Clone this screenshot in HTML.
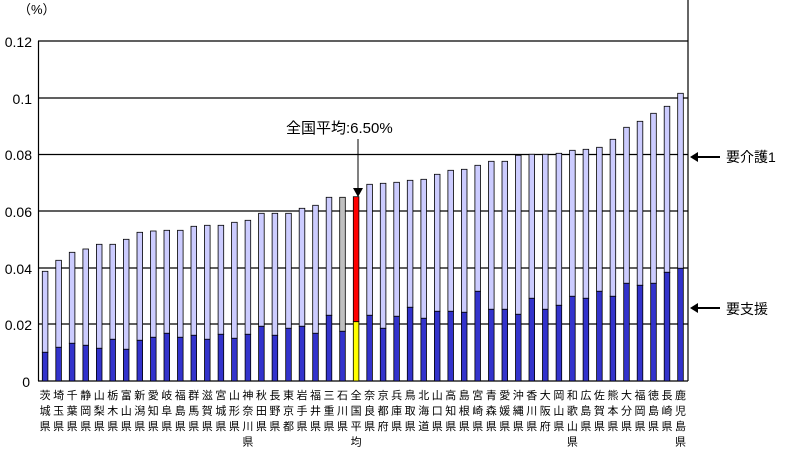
<!DOCTYPE html>
<html><head><meta charset="utf-8"><style>body{margin:0;background:#fff}svg{display:block}.u{fill:#ccccff}.d{fill:#3333cc}rect{stroke:#000;stroke-width:0.8}</style></head><body>
<svg width="790" height="449" xmlns="http://www.w3.org/2000/svg" font-family="'Liberation Sans','Noto Sans CJK JP',sans-serif">
<rect width="790" height="449" fill="#fff" style="stroke:none"/>
<text x="18" y="14" font-size="13">（%）</text>
<g stroke="#000" stroke-width="1.2">
<line x1="38" y1="41" x2="688" y2="41"/><line x1="38" y1="98" x2="688" y2="98"/><line x1="38" y1="154.5" x2="688" y2="154.5"/><line x1="38" y1="211" x2="688" y2="211"/><line x1="38" y1="268" x2="688" y2="268"/><line x1="38" y1="324" x2="688" y2="324"/><line x1="38" y1="381" x2="688" y2="381"/>
<line x1="38.5" y1="41" x2="38.5" y2="381"/><line x1="688" y1="0" x2="688" y2="381"/>
</g>
<g font-size="14" text-anchor="end">
<text x="32" y="47">0.12</text><text x="32" y="104">0.1</text><text x="32" y="160">0.08</text><text x="32" y="217">0.06</text><text x="32" y="274">0.04</text><text x="32" y="330">0.02</text><text x="30" y="387">0</text>
</g>
<g>
<rect class="u" x="42.3" y="271.3" width="5.6" height="81"/><rect class="d" x="42.3" y="352.3" width="5.6" height="28.7"/>
<rect class="u" x="55.8" y="260.3" width="5.6" height="87"/><rect class="d" x="55.8" y="347.3" width="5.6" height="33.7"/>
<rect class="u" x="69.3" y="252.3" width="5.6" height="91"/><rect class="d" x="69.3" y="343.3" width="5.6" height="37.7"/>
<rect class="u" x="82.9" y="249" width="5.6" height="96.3"/><rect class="d" x="82.9" y="345.3" width="5.6" height="35.7"/>
<rect class="u" x="96.4" y="244.3" width="5.6" height="104"/><rect class="d" x="96.4" y="348.3" width="5.6" height="32.7"/>
<rect class="u" x="109.9" y="244.3" width="5.6" height="95"/><rect class="d" x="109.9" y="339.3" width="5.6" height="41.7"/>
<rect class="u" x="123.4" y="239.3" width="5.6" height="110"/><rect class="d" x="123.4" y="349.3" width="5.6" height="31.7"/>
<rect class="u" x="137.0" y="232.3" width="5.6" height="108"/><rect class="d" x="137.0" y="340.3" width="5.6" height="40.7"/>
<rect class="u" x="150.5" y="231" width="5.6" height="106.3"/><rect class="d" x="150.5" y="337.3" width="5.6" height="43.7"/>
<rect class="u" x="164.0" y="230.3" width="5.6" height="103"/><rect class="d" x="164.0" y="333.3" width="5.6" height="47.7"/>
<rect class="u" x="177.5" y="230.3" width="5.6" height="107"/><rect class="d" x="177.5" y="337.3" width="5.6" height="43.7"/>
<rect class="u" x="191.0" y="226.3" width="5.6" height="109"/><rect class="d" x="191.0" y="335.3" width="5.6" height="45.7"/>
<rect class="u" x="204.5" y="225.3" width="5.6" height="114"/><rect class="d" x="204.5" y="339.3" width="5.6" height="41.7"/>
<rect class="u" x="218.1" y="225.3" width="5.6" height="109"/><rect class="d" x="218.1" y="334.3" width="5.6" height="46.7"/>
<rect class="u" x="231.6" y="222.3" width="5.6" height="116"/><rect class="d" x="231.6" y="338.3" width="5.6" height="42.7"/>
<rect class="u" x="245.1" y="220.3" width="5.6" height="114"/><rect class="d" x="245.1" y="334.3" width="5.6" height="46.7"/>
<rect class="u" x="258.6" y="213.3" width="5.6" height="113"/><rect class="d" x="258.6" y="326.3" width="5.6" height="54.7"/>
<rect class="u" x="272.1" y="213.3" width="5.6" height="122"/><rect class="d" x="272.1" y="335.3" width="5.6" height="45.7"/>
<rect class="u" x="285.7" y="213.3" width="5.6" height="115"/><rect class="d" x="285.7" y="328.3" width="5.6" height="52.7"/>
<rect class="u" x="299.2" y="208.3" width="5.6" height="118"/><rect class="d" x="299.2" y="326.3" width="5.6" height="54.7"/>
<rect class="u" x="312.7" y="205.3" width="5.6" height="128"/><rect class="d" x="312.7" y="333.3" width="5.6" height="47.7"/>
<rect class="u" x="326.2" y="197.3" width="5.6" height="118"/><rect class="d" x="326.2" y="315.3" width="5.6" height="65.7"/>
<rect style="fill:#c0c0c0" x="339.7" y="197.3" width="5.6" height="134"/><rect class="d" x="339.7" y="331.3" width="5.6" height="49.7"/>
<rect style="fill:#ff0000" x="353.3" y="196.7" width="5.6" height="125"/><rect style="fill:#ffff00" x="353.3" y="321.7" width="5.6" height="59.3"/>
<rect class="u" x="366.8" y="184.3" width="5.6" height="131"/><rect class="d" x="366.8" y="315.3" width="5.6" height="65.7"/>
<rect class="u" x="380.3" y="183.3" width="5.6" height="145"/><rect class="d" x="380.3" y="328.3" width="5.6" height="52.7"/>
<rect class="u" x="393.8" y="182.3" width="5.6" height="134"/><rect class="d" x="393.8" y="316.3" width="5.6" height="64.7"/>
<rect class="u" x="407.3" y="180.3" width="5.6" height="127"/><rect class="d" x="407.3" y="307.3" width="5.6" height="73.7"/>
<rect class="u" x="420.9" y="179.3" width="5.6" height="139"/><rect class="d" x="420.9" y="318.3" width="5.6" height="62.7"/>
<rect class="u" x="434.4" y="174.3" width="5.6" height="137"/><rect class="d" x="434.4" y="311.3" width="5.6" height="69.7"/>
<rect class="u" x="447.9" y="170.3" width="5.6" height="141"/><rect class="d" x="447.9" y="311.3" width="5.6" height="69.7"/>
<rect class="u" x="461.4" y="169.3" width="5.6" height="143"/><rect class="d" x="461.4" y="312.3" width="5.6" height="68.7"/>
<rect class="u" x="474.9" y="165.3" width="5.6" height="126"/><rect class="d" x="474.9" y="291.3" width="5.6" height="89.7"/>
<rect class="u" x="488.5" y="161.3" width="5.6" height="148"/><rect class="d" x="488.5" y="309.3" width="5.6" height="71.7"/>
<rect class="u" x="502.0" y="161.3" width="5.6" height="148"/><rect class="d" x="502.0" y="309.3" width="5.6" height="71.7"/>
<rect class="u" x="515.5" y="155.3" width="5.6" height="159"/><rect class="d" x="515.5" y="314.3" width="5.6" height="66.7"/>
<rect class="u" x="529.0" y="154.3" width="5.6" height="144"/><rect class="d" x="529.0" y="298.3" width="5.6" height="82.7"/>
<rect class="u" x="542.5" y="154.3" width="5.6" height="155"/><rect class="d" x="542.5" y="309.3" width="5.6" height="71.7"/>
<rect class="u" x="556.1" y="153.3" width="5.6" height="152"/><rect class="d" x="556.1" y="305.3" width="5.6" height="75.7"/>
<rect class="u" x="569.6" y="150.3" width="5.6" height="146"/><rect class="d" x="569.6" y="296.3" width="5.6" height="84.7"/>
<rect class="u" x="583.1" y="149.3" width="5.6" height="149"/><rect class="d" x="583.1" y="298.3" width="5.6" height="82.7"/>
<rect class="u" x="596.6" y="147.3" width="5.6" height="144"/><rect class="d" x="596.6" y="291.3" width="5.6" height="89.7"/>
<rect class="u" x="610.1" y="139.3" width="5.6" height="157"/><rect class="d" x="610.1" y="296.3" width="5.6" height="84.7"/>
<rect class="u" x="623.7" y="127.3" width="5.6" height="156"/><rect class="d" x="623.7" y="283.3" width="5.6" height="97.7"/>
<rect class="u" x="637.2" y="121.3" width="5.6" height="164"/><rect class="d" x="637.2" y="285.3" width="5.6" height="95.7"/>
<rect class="u" x="650.7" y="113.3" width="5.6" height="170"/><rect class="d" x="650.7" y="283.3" width="5.6" height="97.7"/>
<rect class="u" x="664.2" y="106.3" width="5.6" height="166"/><rect class="d" x="664.2" y="272.3" width="5.6" height="108.7"/>
<rect class="u" x="677.7" y="93.3" width="5.6" height="175"/><rect class="d" x="677.7" y="268.3" width="5.6" height="112.7"/>
</g>
<g font-size="11" text-anchor="middle">
<text x="45.1" y="399">茨<tspan x="45.1" dy="15.5">城</tspan><tspan x="45.1" dy="15.5">県</tspan></text>
<text x="58.6" y="399">埼<tspan x="58.6" dy="15.5">玉</tspan><tspan x="58.6" dy="15.5">県</tspan></text>
<text x="72.1" y="399">千<tspan x="72.1" dy="15.5">葉</tspan><tspan x="72.1" dy="15.5">県</tspan></text>
<text x="85.7" y="399">静<tspan x="85.7" dy="15.5">岡</tspan><tspan x="85.7" dy="15.5">県</tspan></text>
<text x="99.2" y="399">山<tspan x="99.2" dy="15.5">梨</tspan><tspan x="99.2" dy="15.5">県</tspan></text>
<text x="112.7" y="399">栃<tspan x="112.7" dy="15.5">木</tspan><tspan x="112.7" dy="15.5">県</tspan></text>
<text x="126.2" y="399">富<tspan x="126.2" dy="15.5">山</tspan><tspan x="126.2" dy="15.5">県</tspan></text>
<text x="139.8" y="399">新<tspan x="139.8" dy="15.5">潟</tspan><tspan x="139.8" dy="15.5">県</tspan></text>
<text x="153.3" y="399">愛<tspan x="153.3" dy="15.5">知</tspan><tspan x="153.3" dy="15.5">県</tspan></text>
<text x="166.8" y="399">岐<tspan x="166.8" dy="15.5">阜</tspan><tspan x="166.8" dy="15.5">県</tspan></text>
<text x="180.3" y="399">福<tspan x="180.3" dy="15.5">島</tspan><tspan x="180.3" dy="15.5">県</tspan></text>
<text x="193.8" y="399">群<tspan x="193.8" dy="15.5">馬</tspan><tspan x="193.8" dy="15.5">県</tspan></text>
<text x="207.3" y="399">滋<tspan x="207.3" dy="15.5">賀</tspan><tspan x="207.3" dy="15.5">県</tspan></text>
<text x="220.9" y="399">宮<tspan x="220.9" dy="15.5">城</tspan><tspan x="220.9" dy="15.5">県</tspan></text>
<text x="234.4" y="399">山<tspan x="234.4" dy="15.5">形</tspan><tspan x="234.4" dy="15.5">県</tspan></text>
<text x="247.9" y="399">神<tspan x="247.9" dy="15.5">奈</tspan><tspan x="247.9" dy="15.5">川</tspan><tspan x="247.9" dy="15.5">県</tspan></text>
<text x="261.4" y="399">秋<tspan x="261.4" dy="15.5">田</tspan><tspan x="261.4" dy="15.5">県</tspan></text>
<text x="274.9" y="399">長<tspan x="274.9" dy="15.5">野</tspan><tspan x="274.9" dy="15.5">県</tspan></text>
<text x="288.5" y="399">東<tspan x="288.5" dy="15.5">京</tspan><tspan x="288.5" dy="15.5">都</tspan></text>
<text x="302.0" y="399">岩<tspan x="302.0" dy="15.5">手</tspan><tspan x="302.0" dy="15.5">県</tspan></text>
<text x="315.5" y="399">福<tspan x="315.5" dy="15.5">井</tspan><tspan x="315.5" dy="15.5">県</tspan></text>
<text x="329.0" y="399">三<tspan x="329.0" dy="15.5">重</tspan><tspan x="329.0" dy="15.5">県</tspan></text>
<text x="342.5" y="399">石<tspan x="342.5" dy="15.5">川</tspan><tspan x="342.5" dy="15.5">県</tspan></text>
<text x="356.1" y="399">全<tspan x="356.1" dy="15.5">国</tspan><tspan x="356.1" dy="15.5">平</tspan><tspan x="356.1" dy="15.5">均</tspan></text>
<text x="369.6" y="399">奈<tspan x="369.6" dy="15.5">良</tspan><tspan x="369.6" dy="15.5">県</tspan></text>
<text x="383.1" y="399">京<tspan x="383.1" dy="15.5">都</tspan><tspan x="383.1" dy="15.5">府</tspan></text>
<text x="396.6" y="399">兵<tspan x="396.6" dy="15.5">庫</tspan><tspan x="396.6" dy="15.5">県</tspan></text>
<text x="410.1" y="399">鳥<tspan x="410.1" dy="15.5">取</tspan><tspan x="410.1" dy="15.5">県</tspan></text>
<text x="423.7" y="399">北<tspan x="423.7" dy="15.5">海</tspan><tspan x="423.7" dy="15.5">道</tspan></text>
<text x="437.2" y="399">山<tspan x="437.2" dy="15.5">口</tspan><tspan x="437.2" dy="15.5">県</tspan></text>
<text x="450.7" y="399">高<tspan x="450.7" dy="15.5">知</tspan><tspan x="450.7" dy="15.5">県</tspan></text>
<text x="464.2" y="399">島<tspan x="464.2" dy="15.5">根</tspan><tspan x="464.2" dy="15.5">県</tspan></text>
<text x="477.7" y="399">宮<tspan x="477.7" dy="15.5">崎</tspan><tspan x="477.7" dy="15.5">県</tspan></text>
<text x="491.3" y="399">青<tspan x="491.3" dy="15.5">森</tspan><tspan x="491.3" dy="15.5">県</tspan></text>
<text x="504.8" y="399">愛<tspan x="504.8" dy="15.5">媛</tspan><tspan x="504.8" dy="15.5">県</tspan></text>
<text x="518.3" y="399">沖<tspan x="518.3" dy="15.5">縄</tspan><tspan x="518.3" dy="15.5">県</tspan></text>
<text x="531.8" y="399">香<tspan x="531.8" dy="15.5">川</tspan><tspan x="531.8" dy="15.5">県</tspan></text>
<text x="545.3" y="399">大<tspan x="545.3" dy="15.5">阪</tspan><tspan x="545.3" dy="15.5">府</tspan></text>
<text x="558.9" y="399">岡<tspan x="558.9" dy="15.5">山</tspan><tspan x="558.9" dy="15.5">県</tspan></text>
<text x="572.4" y="399">和<tspan x="572.4" dy="15.5">歌</tspan><tspan x="572.4" dy="15.5">山</tspan><tspan x="572.4" dy="15.5">県</tspan></text>
<text x="585.9" y="399">広<tspan x="585.9" dy="15.5">島</tspan><tspan x="585.9" dy="15.5">県</tspan></text>
<text x="599.4" y="399">佐<tspan x="599.4" dy="15.5">賀</tspan><tspan x="599.4" dy="15.5">県</tspan></text>
<text x="612.9" y="399">熊<tspan x="612.9" dy="15.5">本</tspan><tspan x="612.9" dy="15.5">県</tspan></text>
<text x="626.5" y="399">大<tspan x="626.5" dy="15.5">分</tspan><tspan x="626.5" dy="15.5">県</tspan></text>
<text x="640.0" y="399">福<tspan x="640.0" dy="15.5">岡</tspan><tspan x="640.0" dy="15.5">県</tspan></text>
<text x="653.5" y="399">徳<tspan x="653.5" dy="15.5">島</tspan><tspan x="653.5" dy="15.5">県</tspan></text>
<text x="667.0" y="399">長<tspan x="667.0" dy="15.5">崎</tspan><tspan x="667.0" dy="15.5">県</tspan></text>
<text x="680.5" y="399">鹿<tspan x="680.5" dy="15.5">児</tspan><tspan x="680.5" dy="15.5">島</tspan><tspan x="680.5" dy="15.5">県</tspan></text>
</g>
<text x="286" y="133" font-size="15">全国平均:6.50%</text>
<line x1="358" y1="139" x2="358" y2="190" stroke="#000"/>
<polygon points="353,188 363,188 358,197" fill="#000"/>
<polygon points="690,157 698,152 698,162" fill="#000"/><line x1="697" y1="157" x2="720" y2="157" stroke="#000" stroke-width="2"/>
<text x="726" y="162" font-size="14">要介護1</text>
<polygon points="690,308 698,303 698,313" fill="#000"/><line x1="697" y1="308" x2="720" y2="308" stroke="#000" stroke-width="2"/>
<text x="726" y="314" font-size="14">要支援</text>
</svg>
</body></html>
